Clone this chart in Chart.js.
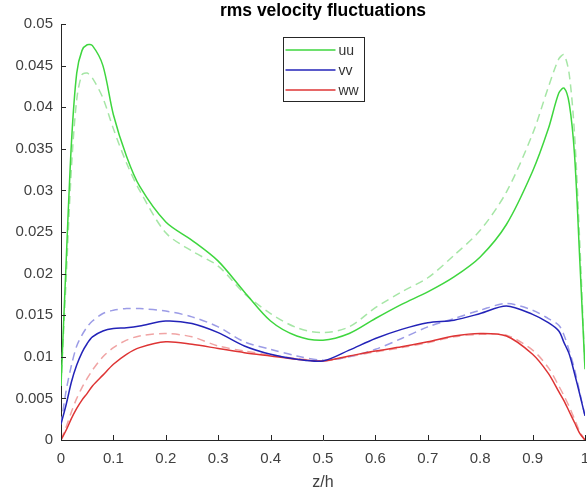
<!DOCTYPE html>
<html>
<head>
<meta charset="utf-8">
<script src="https://cdn.jsdelivr.net/npm/chart.js@4/dist/chart.umd.min.js"></script>
<style>
  html, body { margin: 0; padding: 0; background: #fff; }
  #wrap { width: 587px; height: 496px; }
</style>
</head>
<body>
<div id="wrap"><canvas id="canvas" width="587" height="496"></canvas></div>
<script>
// z/h positions of the samples
var zh = [0, 0.01, 0.02, 0.03, 0.04, 0.05, 0.06, 0.08, 0.1, 0.125, 0.15, 0.2, 0.25, 0.3, 0.35, 0.4, 0.45,
          0.5, 0.55, 0.6, 0.65, 0.7, 0.75, 0.8, 0.85, 0.9, 0.93, 0.95, 0.96, 0.97, 0.98, 0.99, 1];

// solid lines
var uu = [0.0065, 0.0217, 0.0358, 0.0441, 0.0468, 0.0475, 0.0474, 0.0450, 0.0391, 0.0341, 0.0305, 0.0262, 0.0240,
          0.0215, 0.0178, 0.0143, 0.0125, 0.0120, 0.0128, 0.0146, 0.0163, 0.0178, 0.0196, 0.0220, 0.0259, 0.0323,
          0.0374, 0.0417, 0.0423, 0.0404, 0.0343, 0.0217, 0.0085];
var vv = [0.0019, 0.0043, 0.0070, 0.0090, 0.0105, 0.0116, 0.0124, 0.0131, 0.0134, 0.0135, 0.0137, 0.0143, 0.0140,
          0.0129, 0.0113, 0.0103, 0.0097, 0.0095, 0.0108, 0.0122, 0.0133, 0.0141, 0.0144, 0.0152, 0.0161, 0.0151,
          0.0141, 0.0131, 0.0117, 0.0103, 0.0080, 0.0055, 0.0029];
var ww = [0.0000, 0.0012, 0.0026, 0.0038, 0.0048, 0.0056, 0.0065, 0.0078, 0.0091, 0.0103, 0.0111, 0.0118, 0.0115,
          0.0110, 0.0105, 0.0101, 0.0097, 0.0095, 0.0101, 0.0107, 0.0112, 0.0118, 0.0125, 0.0128, 0.0125, 0.0103,
          0.0080, 0.0058, 0.0047, 0.0034, 0.0021, 0.0008, 0.0000];

// dashed (light) lines
var uuRef = [0.0065, 0.0196, 0.0328, 0.0409, 0.0439, 0.0441, 0.0435, 0.0411, 0.0374, 0.0333, 0.0300, 0.0249, 0.0227,
             0.0209, 0.0176, 0.0152, 0.0135, 0.0129, 0.0136, 0.0159, 0.0178, 0.0195, 0.0222, 0.0252, 0.0298, 0.0368,
             0.0424, 0.0458, 0.0463, 0.0439, 0.0368, 0.0237, 0.0085];
var vvRef = [0.0019, 0.0060, 0.0090, 0.0113, 0.0126, 0.0136, 0.0143, 0.0152, 0.0156, 0.0158, 0.0158, 0.0155, 0.0148,
             0.0136, 0.0118, 0.0109, 0.0101, 0.0096, 0.0100, 0.0109, 0.0122, 0.0136, 0.0146, 0.0156, 0.0164, 0.0156,
             0.0146, 0.0138, 0.0126, 0.0107, 0.0085, 0.0057, 0.0029];
var wwRef = [0.0000, 0.0016, 0.0034, 0.0050, 0.0063, 0.0074, 0.0084, 0.0100, 0.0111, 0.0120, 0.0125, 0.0128, 0.0124,
             0.0113, 0.0107, 0.0102, 0.0098, 0.0095, 0.0100, 0.0106, 0.0111, 0.0117, 0.0124, 0.0127, 0.0126, 0.0108,
             0.0087, 0.0065, 0.0053, 0.0040, 0.0025, 0.0010, 0.0000];

var xTicks = [0, 0.1, 0.2, 0.3, 0.4, 0.5, 0.6, 0.7, 0.8, 0.9, 1];
var yTicks = [0, 0.005, 0.01, 0.015, 0.02, 0.025, 0.03, 0.035, 0.04, 0.045, 0.05];

var FONT = "'Liberation Sans', Arial, Helvetica, sans-serif";
var AXIS = '#262626';

function pts(ys) {
        return zh.map(function(z, i) { return {x: z, y: ys[i]}; });
}

function line(label, ys, color, dashed) {
        return {
                label: label,
                data: pts(ys),
                borderColor: color,
                backgroundColor: color,
                borderWidth: 1.5,
                borderDash: dashed ? [8, 5] : [],
                pointRadius: 0,
                fill: false,
                tension: 0.3,
                legendEntry: !dashed
        };
}

// title over the plot area
var titlePlugin = {
        id: 'plotTitle',
        afterDraw: function(chart) {
                var ctx = chart.ctx, a = chart.chartArea;
                ctx.save();
                ctx.font = 'bold 17.5px ' + FONT;
                ctx.fillStyle = '#000';
                ctx.textAlign = 'center';
                ctx.textBaseline = 'alphabetic';
                ctx.fillText('rms velocity fluctuations', (a.left + a.right) / 2, 16);
                ctx.restore();
        }
};

// inward tick marks, matlab style
var tickPlugin = {
        id: 'inTicks',
        afterDraw: function(chart) {
                var ctx = chart.ctx, a = chart.chartArea;
                var sx = chart.scales.x, sy = chart.scales.y;
                ctx.save();
                ctx.strokeStyle = AXIS;
                ctx.lineWidth = 1;
                ctx.beginPath();
                xTicks.forEach(function(v) {
                        var px = Math.round(sx.getPixelForValue(v)) + 0.5;
                        ctx.moveTo(px, a.bottom);
                        ctx.lineTo(px, a.bottom - 5);
                });
                yTicks.forEach(function(v) {
                        var py = Math.round(sy.getPixelForValue(v)) + 0.5;
                        ctx.moveTo(a.left, py);
                        ctx.lineTo(a.left + 5, py);
                });
                ctx.stroke();
                ctx.restore();
        }
};

// boxed legend inside the plot
var legendPlugin = {
        id: 'boxLegend',
        afterDraw: function(chart) {
                var ctx = chart.ctx, a = chart.chartArea;
                var items = chart.data.datasets.filter(function(d) { return d.legendEntry; });
                var w = 81, rowH = 20, h = 64;
                var x0 = Math.round((a.left + a.right) / 2 - w / 2) + 0.5;
                var y0 = a.top + 13.5;
                ctx.save();
                ctx.fillStyle = '#fff';
                ctx.fillRect(x0, y0, w, h);
                ctx.strokeStyle = '#262626';
                ctx.lineWidth = 1;
                ctx.strokeRect(x0, y0, w, h);
                ctx.font = '14px ' + FONT;
                ctx.textBaseline = 'middle';
                ctx.textAlign = 'left';
                items.forEach(function(d, i) {
                        var cy = y0 + 12.5 + i * rowH;
                        ctx.strokeStyle = d.borderColor;
                        ctx.lineWidth = 1.5;
                        ctx.beginPath();
                        ctx.moveTo(x0 + 2, cy);
                        ctx.lineTo(x0 + 52, cy);
                        ctx.stroke();
                        ctx.fillStyle = '#333';
                        ctx.fillText(d.label, x0 + 55, cy + 1);
                });
                ctx.restore();
        }
};

var config = {
        type: 'line',
        data: {
                datasets: [
                        line('uu', uu, '#3ed63e', false),
                        line('vv', vv, '#2323b8', false),
                        line('ww', ww, '#de3434', false),
                        line('uu ref', uuRef, '#a6e6a6', true),
                        line('vv ref', vvRef, '#9c9ce6', true),
                        line('ww ref', wwRef, '#f0a4a4', true)
                ]
        },
        options: {
                responsive: false,
                animation: false,
                layout: { padding: { left: 0, right: 2, top: 24, bottom: 0 } },
                plugins: {
                        legend: { display: false },
                        title: { display: false },
                        tooltip: { enabled: false }
                },
                scales: {
                        x: {
                                type: 'linear',
                                min: 0,
                                max: 1,
                                afterBuildTicks: function(s) { s.ticks = xTicks.map(function(v) { return {value: v}; }); },
                                afterFit: function(s) { s.height = 56; s.paddingLeft = 0; s.paddingRight = 0; },
                                grid: { display: false, drawTicks: false },
                                border: { display: true, color: AXIS, width: 1 },
                                ticks: {
                                        padding: 10,
                                        color: '#404040',
                                        font: { family: FONT, size: 15 },
                                        maxRotation: 0,
                                        autoSkip: false,
                                        callback: function(v) { return String(+v.toFixed(1)); }
                                },
                                title: {
                                        display: true,
                                        text: 'z/h',
                                        color: '#404040',
                                        font: { family: FONT, size: 16 },
                                        padding: { top: 0, bottom: 4 }
                                }
                        },
                        y: {
                                type: 'linear',
                                min: 0,
                                max: 0.05,
                                afterBuildTicks: function(s) { s.ticks = yTicks.map(function(v) { return {value: v}; }); },
                                afterFit: function(s) { s.width = 61; s.paddingTop = 0; s.paddingBottom = 0; },
                                grid: { display: false, drawTicks: false },
                                border: { display: true, color: AXIS, width: 1 },
                                ticks: {
                                        padding: 8,
                                        color: '#404040',
                                        font: { family: FONT, size: 15 },
                                        autoSkip: false,
                                        callback: function(v) { return String(+v.toFixed(3)); }
                                }
                        }
                }
        },
        plugins: [titlePlugin, tickPlugin, legendPlugin]
};

window.onload = function() {
        var ctx = document.getElementById('canvas').getContext('2d');
        window.myLine = new Chart(ctx, config);
};
</script>
</body>
</html>
